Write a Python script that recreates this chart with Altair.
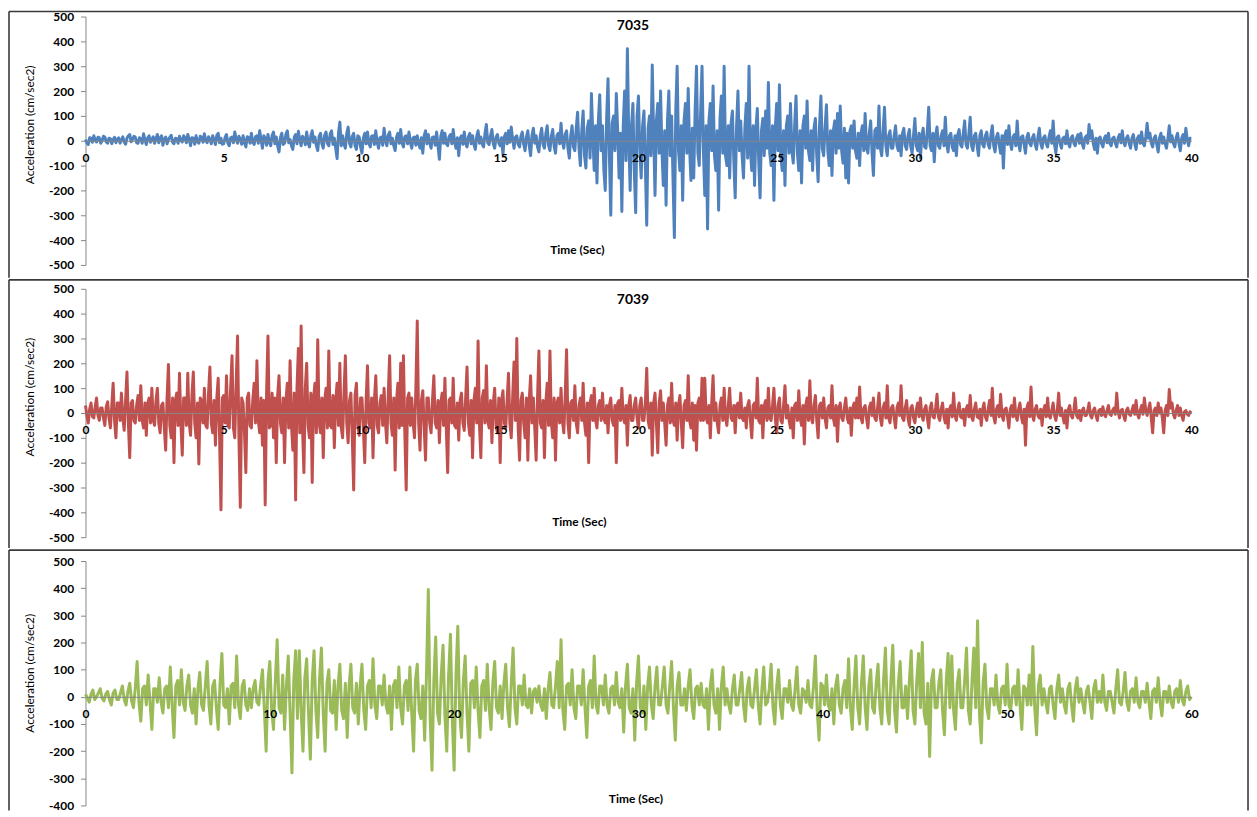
import altair as alt
import pandas as pd

# ---------------- data ----------------
TITLES = ["7035", "7039", ""]
COLORS = ["#4F81BD", "#C0504D", "#9BBB59"]
X_TITLE = "Time (Sec)"
Y_TITLE = "Acceleration (cm/sec2)"

# record 7035: 0.05 s steps, 0..40 s (one row = 1 s)
dt_7035 = 0.05
acc_7035 = [
    5, -8, -15, 12, 10, -6, 20, 2, -5, 14, 12, -10, 0, 18, 15, -5, -10, 10, 8, -12,
    5, 14, -8, 6, 12, -10, 3, 16, -5, -14, 10, 20, 25, -4, 5, 18, 15, -8, -10, 12,
    8, -10, 28, 4, -15, 12, 20, -6, 5, 16, -10, 8, 25, -8, 10, 20, -18, 6, 15, -12,
    5, 14, 22, -6, -12, 10, 8, -10, 18, 2, -5, 20, 12, -8, 25, 6, -20, 12, 10, -14,
    20, -4, -10, 18, 15, -6, 28, 0, -8, 16, 5, -12, 20, 4, -15, 22, 30, -8, 10, -14,
    -12, 14, 25, -10, -20, 12, 15, -8, 35, 6, -10, 18, 5, -14, 20, -6, -25, 16, 12, -10,
    30, -6, -15, 16, 20, -10, 40, 5, -30, 20, 10, -18, 25, -6, -20, 22, 35, -12, 15, -20,
    -45, 12, 30, -15, -10, 26, 40, -8, 5, -20, -35, 14, 25, -12, 38, 4, -20, 18, 10, -16,
    35, -8, -25, 20, 40, -6, 15, -20, -40, 18, 30, -12, -30, 22, 35, -10, -20, 28, 40, -15,
    10, -30, -72, 30, 75, -20, 20, -12, -30, 30, 55, -10, -25, 18, 30, -20, -35, 20, 15, -25,
    -50, 10, 30, -12, 35, -10, -25, 18, 20, -15, 40, -6, -30, 12, 15, -18, 50, 0, -20, 22,
    35, -12, 10, -20, -40, 14, 30, -10, 45, -8, -25, 16, 20, -12, 35, -6, -30, 12, 15, -18,
    20, -10, -30, 12, -50, 20, 40, -12, 25, -8, -30, 14, 15, -18, 35, -20, -75, 18, 40, -10,
    30, -12, -20, 16, 25, -12, 45, -6, -30, 12, -60, 10, 20, -14, 35, -10, -25, 16, 30, -12,
    20, -15, -35, 18, 40, -10, 15, -14, -25, 30, 65, -8, -15, 20, 45, -12, -30, 14, 25, -10,
    -20, 12, -55, 16, 30, -12, 40, -6, 55, 6, -30, 14, 20, -14, -25, 18, 35, -15, -40, 16,
    40, -20, -60, 22, 50, -10, 20, -25, -45, 20, 50, -15, -30, 28, 60, -20, -40, 18, 45, -22,
    -50, 20, 30, -12, 70, -6, -30, 25, 40, -30, -70, 20, 60, -25, -40, 50, 115, -30, -100, 40,
    120, -60, -110, 50, 80, -70, 190, 20, -120, 60, -170, 80, 185, -40, 60, -120, -200, 90, 250, -60,
    -300, 70, 100, -40, 190, 40, -150, 30, -285, 60, 200, -80, 370, 20, -200, 60, 150, -120, -290, 100,
    180, -40, -150, 60, 120, -100, -340, 50, 100, -60, 305, 30, -220, 80, 150, -50, 200, -40, -180, 40,
    -260, 80, 200, -60, 100, -150, -390, 120, 300, -40, -120, 60, -240, 80, 150, -50, 210, -30, -160, 50,
    -150, 120, 300, -50, -100, 120, 300, -40, -220, 60, -355, 80, 150, -40, 220, -60, -120, 40, -280, 90,
    180, -50, 300, -60, -100, 60, -150, 70, 120, -80, -230, 60, 200, -40, 80, -60, -150, 50, 150, -70,
    300, -40, -120, 60, -180, 50, 130, -80, -230, 40, 90, -60, 120, -30, 235, -50, -100, 60, -240, 50,
    150, -40, 225, -60, -120, 40, -180, 60, 100, -50, 150, -40, -90, 60, 180, -50, -120, 40, -170, 60,
    100, -30, 160, -40, -80, 40, -120, 50, 90, -60, -165, 60, 180, -30, -60, 50, 145, -40, -100, 40,
    -140, 40, 80, -50, 110, -30, 140, -40, -90, 50, -150, 30, -170, 40, 60, -30, 80, -40, -70, 30,
    -100, 30, 60, -40, 110, -30, -50, 30, 80, -50, -140, 40, 50, -30, 140, -30, -60, 40, 135, -20,
    -60, 20, 40, -30, -30, 20, 60, -20, -40, 20, -60, 30, 50, -20, -35, 20, 45, -25, -50, 20,
    90, -20, -40, 30, -70, 20, 50, -25, -30, 40, 135, -20, -40, 30, -85, 20, 55, -20, -30, 20,
    40, -20, 95, -15, -45, 20, 30, -25, -40, 20, -60, 25, 45, -15, -25, 30, 80, -15, -30, 25,
    95, -20, -40, 20, 30, -20, -60, 20, 40, -15, -25, 20, 35, -15, -30, 25, 60, -20, -45, 15,
    30, -15, -50, 20, -110, 20, 40, -15, 60, -10, -35, 15, 25, -20, 80, -10, -40, 15, 20, -15,
    -50, 15, 30, -10, -20, 12, 25, -15, -35, 15, 50, -10, -30, 12, 20, -12, -25, 15, 40, -10,
    80, -15, -50, 15, 20, -10, -30, 10, 15, -12, 40, -10, -25, 12, 20, -10, -20, 12, 25, -10,
    30, -10, -30, 12, 20, -10, 65, 10, 40, -10, -35, 10, -50, 8, 15, -10, -25, 10, 20, -8,
    30, -10, -20, 10, 15, -10, -25, 12, 25, -8, 40, -5, -20, 10, 20, -10, -30, 10, 25, -10,
    -35, 10, 20, -10, 35, -10, -20, 15, 70, 10, 30, -10, -25, 10, 20, -15, -45, 12, 30, -10,
    15, -12, -30, 10, 60, -5, 20, -10, -25, 12, 30, -10, -40, 10, 25, -10, 50, 5, -20, 10,
    10,
]

# record 7039: 0.05 s steps, 0..40 s (one row = 1 s)
dt_7039 = 0.05
acc_7039 = [
    30, -10, -40, 15, 40, -15, -20, 25, 60, -10, -30, 20, 20, -20, -50, 25, 45, -20, -60, 30,
    120, -30, -100, 40, 40, -30, 80, -20, -70, 50, 165, -40, -180, 40, 50, -30, -40, 30, 70, -30,
    110, -30, -60, 40, -90, 40, 60, -40, 100, -30, -50, 50, 100, -40, -80, 30, 40, -60, -150, 60,
    195, -50, -100, 60, -200, 50, 80, -50, 160, -40, -170, 60, 60, -50, 160, -40, -90, 70, 165, -40,
    -100, 40, -205, 60, 50, -40, 100, -50, -60, 80, 185, -40, -80, 50, -130, 60, 140, -100, -390, 60,
    70, -40, 150, -50, -60, 100, 230, -60, -100, 120, 310, -100, -380, 60, 40, -80, -240, 60, 80, -50,
    -60, 50, 120, -40, 210, -30, -80, 60, -130, 50, -370, 80, 310, -60, -50, 80, -100, 60, -200, 70,
    150, -40, -80, 60, -200, 50, 120, -60, 210, -50, -150, 80, -350, 100, 260, -80, 350, -60, -240, 100,
    200, -50, -100, 80, -280, 60, 120, -80, 295, -40, -80, 60, -180, 50, 100, -60, 250, -50, -60, 70,
    -140, 50, 120, -50, 200, -60, -100, 80, 230, -40, -120, 50, 80, -100, -310, 70, 120, -50, -90, 60,
    60, -60, -200, 50, 190, -40, -60, 60, -180, 50, 150, -50, -80, 40, 70, -50, 100, -40, -120, 70,
    230, -40, -90, 60, -230, 50, 120, -60, 200, -50, 230, -80, -310, 60, 80, -50, 60, -40, -100, 100,
    370, -40, -150, 50, 90, -60, -190, 60, 60, -40, -80, 50, 150, -40, -60, 50, -120, 40, 80, -50,
    140, -60, -240, 50, 60, -40, 140, -50, -60, 40, -110, 50, 80, -40, -70, 60, 185, -40, -90, 50,
    -180, 50, 100, -40, 290, -50, -180, 60, 90, -40, 190, -30, -60, 50, -120, 40, 100, -50, -80, 60,
    -200, 50, 90, -40, -60, 50, 160, -40, -100, 60, 205, -30, 300, -60, -190, 50, 80, -40, -100, 60,
    -190, 50, 150, -40, 60, -60, -190, 60, 250, -40, -60, 50, -180, 40, 120, -50, 250, -40, -100, 60,
    -190, 40, 60, -40, 100, -30, -80, 60, 255, -40, -100, 40, 50, -30, 110, -40, -80, 30, 60, -30,
    120, -40, -90, 40, -200, 40, 70, -30, 100, -30, -60, 30, 50, -30, 80, -20, -40, 30, -80, 30,
    60, -30, -50, 30, -200, 40, 50, -30, 100, -20, -40, 30, -130, 30, 70, -30, -30, 30, 60, -20,
    -60, 30, 60, -30, -30, 40, 180, -30, -60, 40, -170, 40, 80, -40, -160, 40, 90, -30, 40, -40,
    -130, 30, 60, -40, 120, -30, -50, 40, -110, 30, 70, -40, -140, 30, 50, -30, 150, -30, -60, 40,
    -110, 30, -150, 40, 60, -30, 140, -30, 140, -20, -40, 30, -100, 40, 150, -30, 40, -40, -80, 30,
    60, -30, 100, -20, -50, 30, 100, -20, -30, 30, -80, 30, 40, -20, 80, -20, -30, 20, -60, 30,
    50, -30, -100, 30, 40, -20, 140, -30, -40, 30, -100, 30, 50, -30, 100, -20, -30, 30, 100, -20,
    -80, 30, 60, -30, -40, 30, 110, -20, 30, -30, -60, 20, -100, 30, 40, -30, 90, -20, -50, 30,
    -125, 30, 60, -30, 130, -20, -40, 30, 70, -30, -100, 30, 40, -20, 60, -20, -60, 20, 30, -20,
    110, -20, -50, 30, -115, 20, 40, -20, -30, 20, 60, -20, -40, 20, -90, 20, 40, -20, 60, -20,
    105, -20, -40, 20, 30, -20, -60, 20, 40, -10, 60, -20, -30, 20, 80, -20, -50, 20, 40, -20,
    110, -20, -40, 20, 30, -20, -60, 20, 40, -10, 110, -20, -30, 20, 50, -20, -50, 20, 30, -20,
    -40, 15, 40, -15, 60, -10, -30, 15, 30, -20, -60, 20, 40, -15, -20, 20, 75, -15, -30, 15,
    40, -15, -40, 15, -60, 15, 30, -15, 80, -10, -30, 15, 40, -15, -20, 15, -50, 15, 30, -15,
    70, -15, -30, 15, 40, -15, -20, 15, -50, 15, 40, -15, -30, 15, 50, -10, 100, -15, -40, 15,
    30, -15, 75, -10, -30, 15, 20, -15, -60, 15, 30, -15, 60, -10, -30, 15, 40, -15, -40, 15,
    -130, 20, 40, -15, 105, -10, -30, 15, 30, -10, -20, 15, -50, 10, 30, -15, 60, -10, -20, 10,
    40, -10, -30, 10, 80, -10, 20, -15, -40, 10, -60, 15, 30, -10, -20, 10, 60, -10, -20, 10,
    -30, 10, 20, -10, -10, 10, 40, -10, -20, 10, 20, -10, -30, 10, 15, -10, 25, -5, -15, 10,
    30, -5, -10, 10, 20, -5, 80, 5, -20, 10, 15, -10, -30, 10, 20, -5, -10, 10, 30, -5,
    50, -5, -20, 10, 30, -5, 60, 10, -10, 15, 40, -20, -80, 10, 20, -10, 40, 0, 20, -20,
    -80, 10, 30, -10, 95, 20, 40, -5, -20, 10, 30, -10, 20, -10, -30, 5, 10, -5, -10, 5,
    0,
]

# record 3 (green): 0.1 s steps, 0..60 s (one row = 2 s)
dt_3 = 0.1
acc_3 = [
    10, -5, -20, 10, 25, -10, 0, 15, 30, -5, -15, 10, 20, -10, -30, 15, 25, -10, -10, 15,
    40, -10, -30, 20, 50, -15, -40, 30, 130, -20, -90, 30, 40, -30, 80, -20, -120, 30, 30, -20,
    70, -20, -60, 30, 40, -40, 110, -30, -150, 40, 60, -30, 100, -20, -50, 40, 80, -30, -60, 30,
    -100, 30, 90, -30, -50, 40, 130, -30, -100, 40, 60, -40, -120, 50, 160, -30, -40, 30, -100, 40,
    50, -40, 150, -30, -80, 40, 60, -30, -50, 30, -40, 30, 60, -20, -30, 40, 100, -40, -200, 60,
    130, -50, -120, 60, 210, -40, -60, 80, -120, 40, 150, -60, -280, 60, 170, -80, 170, -50, -200, 70,
    140, -60, -230, 60, 170, -50, -150, 70, 180, -60, -200, 50, 100, -50, -60, 60, -120, 40, 120, -50,
    -80, 50, -150, 40, 120, -40, -60, 50, -100, 40, 120, -50, -120, 40, 60, -40, 140, -30, -80, 40,
    40, -30, 80, -30, -60, 40, -120, 40, 60, -40, 110, -40, -100, 40, 60, -50, 110, -60, -200, 60,
    120, -50, -80, 40, -160, 80, 395, -80, -270, 60, 220, -60, -100, 80, 190, -70, -200, 80, 230, -80,
    -270, 80, 260, -60, -150, 60, 150, -60, -200, 50, 60, -40, 110, -50, -150, 40, 60, -50, 120, -40,
    -120, 50, 130, -40, -60, 40, -80, 50, 120, -40, -110, 50, 180, -40, -100, 40, 40, -30, 80, -30,
    -40, 30, -60, 20, 30, -20, 40, -30, -50, 30, -80, 30, 90, -30, -40, 40, 130, -40, 210, -50,
    -120, 40, 50, -30, 100, -40, -80, 40, 40, -30, 100, -40, -150, 40, 60, -40, 150, -30, -60, 40,
    40, -30, 80, -30, -60, 30, 40, -30, 90, -20, -40, 30, -130, 40, 120, -40, -60, 30, -160, 50,
    150, -40, -60, 40, -120, 40, 110, -30, -80, 40, 110, -30, -30, 40, 110, -30, -60, 40, 130, -40,
    -160, 40, 90, -30, -30, 30, -50, 40, 100, -30, -80, 30, 40, -30, 50, -30, -40, 30, -120, 40,
    100, -30, -60, 30, -120, 40, 110, -30, 30, -30, -60, 30, 80, -30, -30, 30, 90, -30, -90, 30,
    70, -30, -40, 30, 100, -30, -100, 30, 110, -30, -20, 30, 120, -40, -100, 40, 100, -30, -80, 30,
    30, -20, 60, -30, -50, 30, 110, -30, -60, 30, 20, -20, 60, -30, -40, 40, 150, -50, -160, 50,
    40, -30, 80, -30, -50, 30, -100, 40, 80, -30, -60, 30, 60, -40, 140, -40, -120, 40, 150, -40,
    -100, 50, 150, -40, -120, 40, 100, -40, -60, 50, 120, -40, -100, 60, 180, -50, -100, 60, 190, -50,
    -130, 50, 130, -40, -40, 40, -80, 60, 170, -50, -100, 60, 160, -40, 200, -60, -100, 50, -220, 60,
    100, -40, -40, 50, 100, -50, -140, 60, 160, -40, 150, -50, -120, 50, 100, -40, -40, 60, 180, -50,
    -100, 60, 180, -40, 280, -60, -170, 50, 120, -40, -80, 30, 30, -30, 80, -30, -60, 30, 40, -30,
    120, -30, -50, 30, 40, -30, 100, -30, -120, 40, 30, -30, 80, -30, 185, -40, -140, 40, 80, -30,
    30, -20, -60, 30, 40, -30, -80, 30, 80, -20, 30, -30, -60, 30, 50, -30, -90, 30, 70, -20,
    30, -20, -60, 20, 40, -20, -80, 30, 60, -20, 20, -20, 80, -20, -50, 20, 20, -20, -60, 30,
    100, -20, -30, 20, 90, -20, -50, 20, 30, -20, 70, -20, -40, 20, 20, -20, 50, -20, -80, 20,
    30, -20, 70, -20, -70, 20, 20, -20, 40, -20, -40, 20, 30, -20, 60, -10, -30, 20, 40, -10,
    0,
]

Y_TICKS_A = [-500, -400, -300, -200, -100, 0, 100, 200, 300, 400, 500]
Y_TICKS_B = [-400, -300, -200, -100, 0, 100, 200, 300, 400, 500]
X_TICKS_A = [0, 5, 10, 15, 20, 25, 30, 35, 40]
X_TICKS_B = [0, 10, 20, 30, 40, 50, 60]

FONT = "Lato"
AXIS_GRAY = "#868686"
FRAME = "#3a3a3a"
W = 1113


def make_df(vals, dt):
    return pd.DataFrame({"t": [round(i * dt, 3) for i in range(len(vals))], "a": vals})


def one(label=""):
    return pd.DataFrame({"label": [label]})


def panel(df, color, title, ydom, yticks, xmax, xticks, h, frame_top, frame_bot,
          title_y, xt_pos, yt_y):
    zero_from_bottom = h * (0 - ydom[0]) / (ydom[1] - ydom[0])
    line = alt.Chart(df).mark_line(color=color, strokeWidth=3.0, strokeJoin="round").encode(
        x=alt.X("t:Q",
                scale=alt.Scale(domain=[0, xmax], nice=False, zero=False),
                axis=alt.Axis(values=xticks, title=None, grid=False, offset=-zero_from_bottom,
                              tickSize=0, labelPadding=12, domainColor=AXIS_GRAY,
                              domainWidth=1, labelFont=FONT, labelFontWeight="bold",
                              labelFontSize=12, labelColor="black", labelFlush=False,
                              labelExpr="'' + datum.value", zindex=1)),
        y=alt.Y("a:Q",
                scale=alt.Scale(domain=ydom, nice=False, zero=False),
                axis=alt.Axis(values=yticks, title=None, grid=False, tickSize=5,
                              tickColor=AXIS_GRAY, domainColor=AXIS_GRAY, labelPadding=7,
                              labelFont=FONT, labelFontWeight="bold", labelFontSize=12,
                              labelColor="black", labelFlush=False,
                              labelExpr="'' + datum.value")),
    )
    left, right = -77, 1170
    frames = [
        alt.Chart(one()).mark_rule(color=FRAME, strokeWidth=1.6).encode(
            x=alt.value(left), x2=alt.value(right), y=alt.value(frame_top)),
        alt.Chart(one()).mark_rule(color=FRAME, strokeWidth=1.6).encode(
            x=alt.value(left), y=alt.value(frame_top), y2=alt.value(frame_bot)),
        alt.Chart(one()).mark_rule(color=FRAME, strokeWidth=1.6).encode(
            x=alt.value(right), y=alt.value(frame_top), y2=alt.value(frame_bot)),
    ]
    texts = []
    if title:
        texts.append(alt.Chart(one(title)).mark_text(
            font=FONT, fontWeight="bold", fontSize=14, color="black",
            align="center", baseline="middle").encode(
            x=alt.value(551), y=alt.value(title_y), text="label:N"))
    texts.append(alt.Chart(one(X_TITLE)).mark_text(
        font=FONT, fontWeight="bold", fontSize=12, color="black",
        align="center", baseline="middle").encode(
        x=alt.value(xt_pos[0]), y=alt.value(xt_pos[1]), text="label:N"))
    texts.append(alt.Chart(one(Y_TITLE)).mark_text(
        font=FONT, fontSize=12, color="black", angle=270,
        align="center", baseline="middle").encode(
        x=alt.value(-56), y=alt.value(yt_y), text="label:N"))
    return alt.layer(*frames, line, *texts).properties(width=W, height=h)


p1 = panel(make_df(acc_7035, dt_7035), COLORS[0], TITLES[0], [-500, 500], Y_TICKS_A,
           40, X_TICKS_A, 250, -5, 263, 10, (495, 235), 109)
p2 = panel(make_df(acc_7039, dt_7039), COLORS[1], TITLES[1], [-500, 500], Y_TICKS_A,
           40, X_TICKS_A, 250, -9, 261, 11, (497, 235), 109)
p3 = panel(make_df(acc_3, dt_3), COLORS[2], TITLES[2], [-400, 500], Y_TICKS_B,
           60, X_TICKS_B, 246, -11, 251, None, (554, 240), 113)

chart = alt.vconcat(p1, p2, p3, spacing=0).properties(
    padding={"left": 0, "top": 0, "right": 0, "bottom": 0},
    background="white",
).configure_view(stroke=None)

chart.save("out.html", embed_options={"renderer": "svg", "actions": False})
